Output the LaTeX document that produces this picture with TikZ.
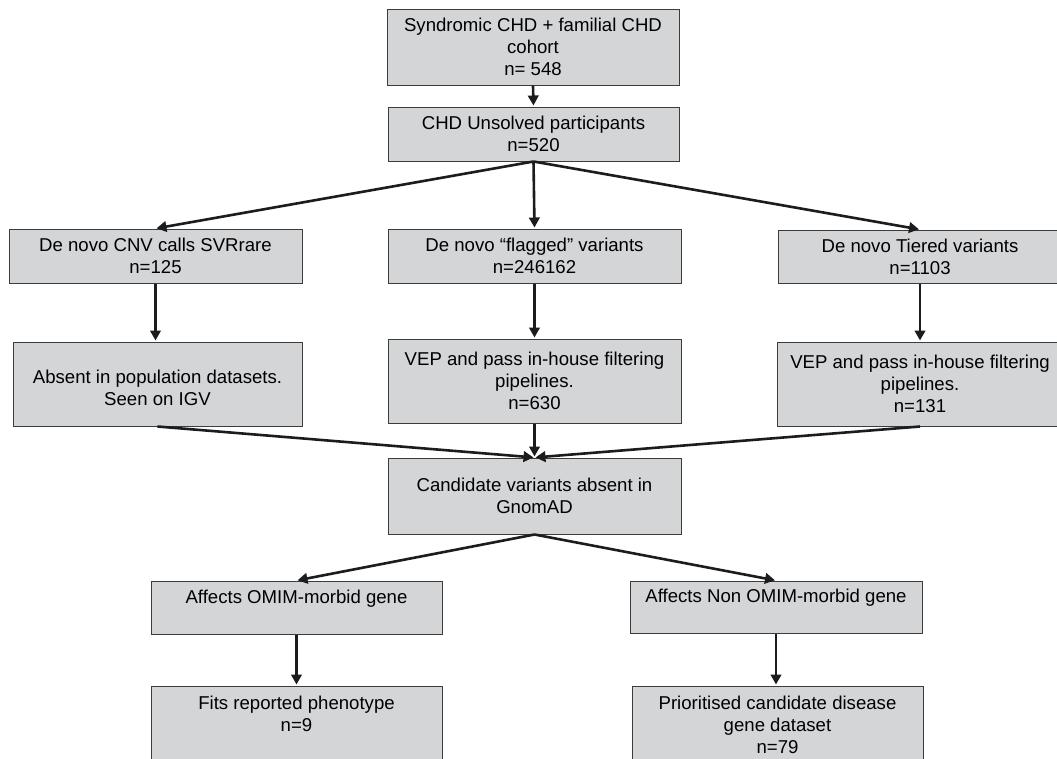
\documentclass[tikz,border=0pt]{standalone}
\usepackage{fontspec}
\setmainfont{Liberation Sans}
\usetikzlibrary{arrows.meta}
\definecolor{boxfill}{HTML}{D4D5D7}
\definecolor{boxline}{HTML}{3C3C3C}
\definecolor{arrowcol}{HTML}{1C1C1C}
\tikzset{
  flowbox/.style={draw=boxline, fill=boxfill, line width=1pt, align=center, inner sep=0pt,
    font=\fontsize{18.6}{22}\selectfont},
  flowarrow/.style={draw=arrowcol, line width=2.6pt,
    -{Triangle[length=10pt,width=10.5pt]}, shorten >=1pt}
}
\begin{document}
\begin{tikzpicture}[x=1pt,y=-1pt]
\useasboundingbox (0,0) rectangle (1057,758);
\clip (0,0) rectangle (1057,758);
\node[flowbox, minimum width=292, minimum height=76] (b1) at (533,47) {Syndromic CHD + familial CHD\\cohort\\n= 548};
\node[flowbox, minimum width=291, minimum height=54] (b2) at (533.5,134) {CHD Unsolved participants\\n=520};
\node[flowbox, minimum width=293, minimum height=54] (b3) at (155.5,256) {De novo CNV calls SVRrare\\n=125};
\node[flowbox, minimum width=293, minimum height=54] (b4) at (534.5,256) {De novo “flagged” variants\\n=246162};
\node[flowbox, minimum width=284, minimum height=53] (b5) at (920,256.5) {De novo Tiered variants\\n=1103};
\node[flowbox, minimum width=289, minimum height=84] (b6) at (157.5,384) {~\\Absent in population datasets.\\Seen on IGV};
\node[flowbox, minimum width=293, minimum height=84] (b7) at (534.5,381) {VEP and pass in-house filtering\\pipelines.\\n=630};
\node[flowbox, minimum width=286, minimum height=84] (b8) at (920,384) {VEP and pass in-house filtering\\pipelines.\\n=131};
\node[flowbox, minimum width=293, minimum height=76] (b9) at (534.5,496) {Candidate variants absent in\\GnomAD};
\node[flowbox, minimum width=291, minimum height=53] (b10) at (296.5,607.5) {Affects OMIM-morbid gene\\~};
\node[flowbox, minimum width=292, minimum height=52] (b11) at (776,607) {Affects Non OMIM-morbid gene\\~};
\node[flowbox, minimum width=291, minimum height=78] (b12) at (296.5,725) {Fits reported phenotype\\n=9\\~};
\node[flowbox, minimum width=291, minimum height=78] (b13) at (777.5,725) {Prioritised candidate disease\\gene dataset\\n=79};
\draw[flowarrow] (b1.south) -- (b2.north);
\draw[flowarrow] (b2.south) -- (b3.north);
\draw[flowarrow] (b2.south) -- (b4.north);
\draw[flowarrow] (b2.south) -- (b5.north);
\draw[flowarrow] (b3.south) -- (b3.south |- b6.north);
\draw[flowarrow] (b4.south) -- (b4.south |- b7.north);
\draw[flowarrow] (b5.south) -- (b5.south |- b8.north);
\draw[flowarrow] (b6.south) -- (b9.north);
\draw[flowarrow] (b7.south) -- (b9.north);
\draw[flowarrow] (b8.south) -- (b9.north);
\draw[flowarrow] (b9.south) -- (b10.north);
\draw[flowarrow] (b9.south) -- (b11.north);
\draw[flowarrow] (b10.south) -- (b10.south |- b12.north);
\draw[flowarrow] (b11.south) -- (b11.south |- b13.north);
\end{tikzpicture}
\end{document}
